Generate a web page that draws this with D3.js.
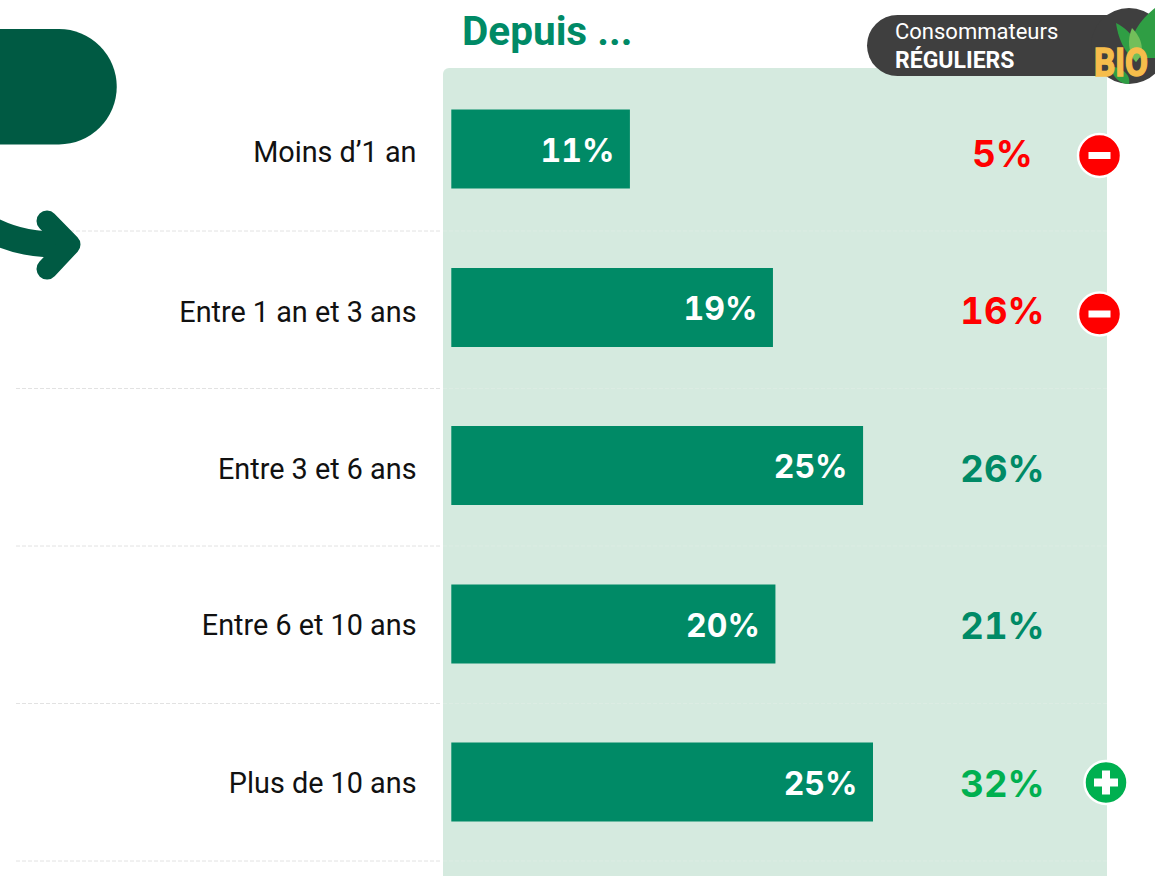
<!DOCTYPE html>
<html><head><meta charset="utf-8">
<script src="https://cdn.jsdelivr.net/npm/d3@7/dist/d3.min.js"></script>
<style>html,body{margin:0;padding:0;background:#fff;overflow:hidden}svg{display:block}text{font-family:Inter,Roboto,sans-serif;font-feature-settings:"tnum" 1}</style>
</head><body><svg id="c" width="1155" height="876"></svg>
<script>
const categories = ["Moins d’1 an","Entre 1 an et 3 ans","Entre 3 et 6 ans","Entre 6 et 10 ans","Plus de 10 ans"];
const barValues = [10.8,19.45,24.9,19.6,25.5];
const barLabels = ["11%","19%","25%","20%","25%"];
const bioLabels = ["5%","16%","26%","21%","32%"];
const bioStates = ["minus","minus","same","same","plus"];
const title = "Depuis ...";
const badgeLines = ["Consommateurs","RÉGULIERS"];

const svg = d3.select("#c");
const x = d3.scaleLinear().domain([0,25.5]).range([451.3,873]);
const barH = 79;
const dy = [149,307.5,465.5,624,782];
const labelY = [162,322,479,635,793];
const bioY = [167,324,482,639,797];
const cy = c => dy[categories.indexOf(c)];

// panel
svg.append("path").attr("fill","#d5eadf")
 .attr("d","M443,876V74a6,6 0 0 1 6,-6H1107V876Z");

// separators
const seps = [231,388.5,546,703.5,861];
svg.selectAll("line.sep").data(seps).join("line").attr("class","sep")
 .attr("x1",16).attr("x2",441).attr("y1",d=>d).attr("y2",d=>d)
 .attr("stroke","#e2e2e2").attr("stroke-dasharray","4 2");
svg.selectAll("line.sep2").data(seps).join("line").attr("class","sep2")
 .attr("x1",443).attr("x2",1107).attr("y1",d=>d).attr("y2",d=>d)
 .attr("stroke","#dcecE3").attr("stroke-dasharray","4 2");

// left pill and arrow
svg.append("path").attr("fill","#005a43").attr("d","M-10,29H59a57.5,57.5 0 0 1 0,115.5H-10Z");
svg.append("path").attr("fill","none").attr("stroke","#005a43").attr("stroke-width",26)
 .attr("d","M-6,231C15,241 35,245 66,245");
svg.append("path").attr("fill","none").attr("stroke","#005a43").attr("stroke-width",21)
 .attr("stroke-linecap","round").attr("stroke-linejoin","round")
 .attr("d","M47,221L70,244.5L47,269");

// title
svg.append("text").attr("x",462).attr("y",45).attr("font-size",40.5).attr("font-weight",700)
 .attr("fill","#008a66").style("font-family","Roboto,Inter,sans-serif").text(title);

// badge
svg.append("path").attr("d","M897.5,15H1120V76H897.5a30.5,30.5 0 0 1 0,-61Z").attr("fill","#3f3f3f");
svg.append("circle").attr("cx",1129).attr("cy",46).attr("r",38).attr("fill","#3f3f3f");
const leaf = (d,f)=>svg.append("path").attr("d",d).attr("fill",f);
leaf("M1155,8C1140,20 1128,36 1130,58L1155,58Z","#2f9e44");
leaf("M1116,23C1118,38 1124,52 1136,62C1141,48 1134,32 1116,23Z","#2f9e44");
leaf("M1132,28C1127,40 1128,52 1136,62C1146,52 1142,38 1132,28Z","#72bf5a");
leaf("M1110,66C1113,78 1120,84 1129,84C1131,74 1122,68 1110,66Z","#2f9e44");
svg.append("text").attr("x",1094).attr("y",76).attr("font-size",38).attr("font-weight",700)
 .attr("fill","#f6bd4b").attr("stroke","#f6bd4b").attr("stroke-width",1.5).attr("textLength",54).attr("lengthAdjust","spacingAndGlyphs")
 .style("font-family","'Liberation Sans Narrow','Roboto',sans-serif").text("BIO");
svg.append("text").attr("x",895).attr("y",39).attr("font-size",22).attr("fill","#fff").style("font-family","Roboto,sans-serif").text(badgeLines[0]);
svg.append("text").attr("x",895).attr("y",68).attr("font-size",23).attr("font-weight",700).attr("fill","#fff").style("font-family","Roboto,sans-serif").text(badgeLines[1]);

// category labels
svg.selectAll("text.cat").data(categories).join("text").attr("class","cat")
 .attr("x",416.5).attr("y",(c,i)=>labelY[i]).attr("text-anchor","end")
 .attr("font-size",28.8).attr("fill","#111").style("font-family","Roboto,sans-serif").text(c=>c);

// bars
svg.selectAll("rect.bar").data(categories).join("rect").attr("class","bar")
 .attr("x",x(0)).attr("y",c=>cy(c)-barH/2).attr("height",barH)
 .attr("width",(c,i)=>x(barValues[i])-x(0)).attr("fill","#008a66");
svg.selectAll("text.val").data(categories).join("text").attr("class","val")
 .attr("x",(c,i)=>x(barValues[i])-15.5).attr("y",c=>cy(c)+12.5).attr("text-anchor","end")
 .attr("font-size",32).attr("font-weight",700).attr("fill","#fff").text((c,i)=>barLabels[i]);

// bio values
const colour = {minus:"#ff0000",same:"#008a66",plus:"#00b050"};
svg.selectAll("text.bio").data(categories).join("text").attr("class","bio")
 .attr("x",1002.5).attr("y",(c,i)=>bioY[i]).attr("text-anchor","middle")
 .attr("font-size",36.5).attr("font-weight",700)
 .attr("fill",(c,i)=>colour[bioStates[i]]).text((c,i)=>bioLabels[i]);

// signs
categories.forEach((c,i)=>{
  const s = bioStates[i]; if(s==="same") return;
  const cxx = s==="plus"?1106:1099.5, cyy = cy(c)+(s==="plus"?0.5:6.5);
  svg.append("circle").attr("cx",cxx).attr("cy",cyy).attr("r",21.5).attr("fill",colour[s]).attr("stroke","#fff").attr("stroke-width",2.5);
  if(s==="minus") svg.append("rect").attr("x",cxx-11).attr("y",cyy-3.5).attr("width",22).attr("height",7).attr("fill","#fff");
  else { svg.append("rect").attr("x",cxx-12).attr("y",cyy-4).attr("width",24).attr("height",8).attr("fill","#fff");
         svg.append("rect").attr("x",cxx-4).attr("y",cyy-12).attr("width",8).attr("height",24).attr("fill","#fff"); }
});
</script></body></html>
